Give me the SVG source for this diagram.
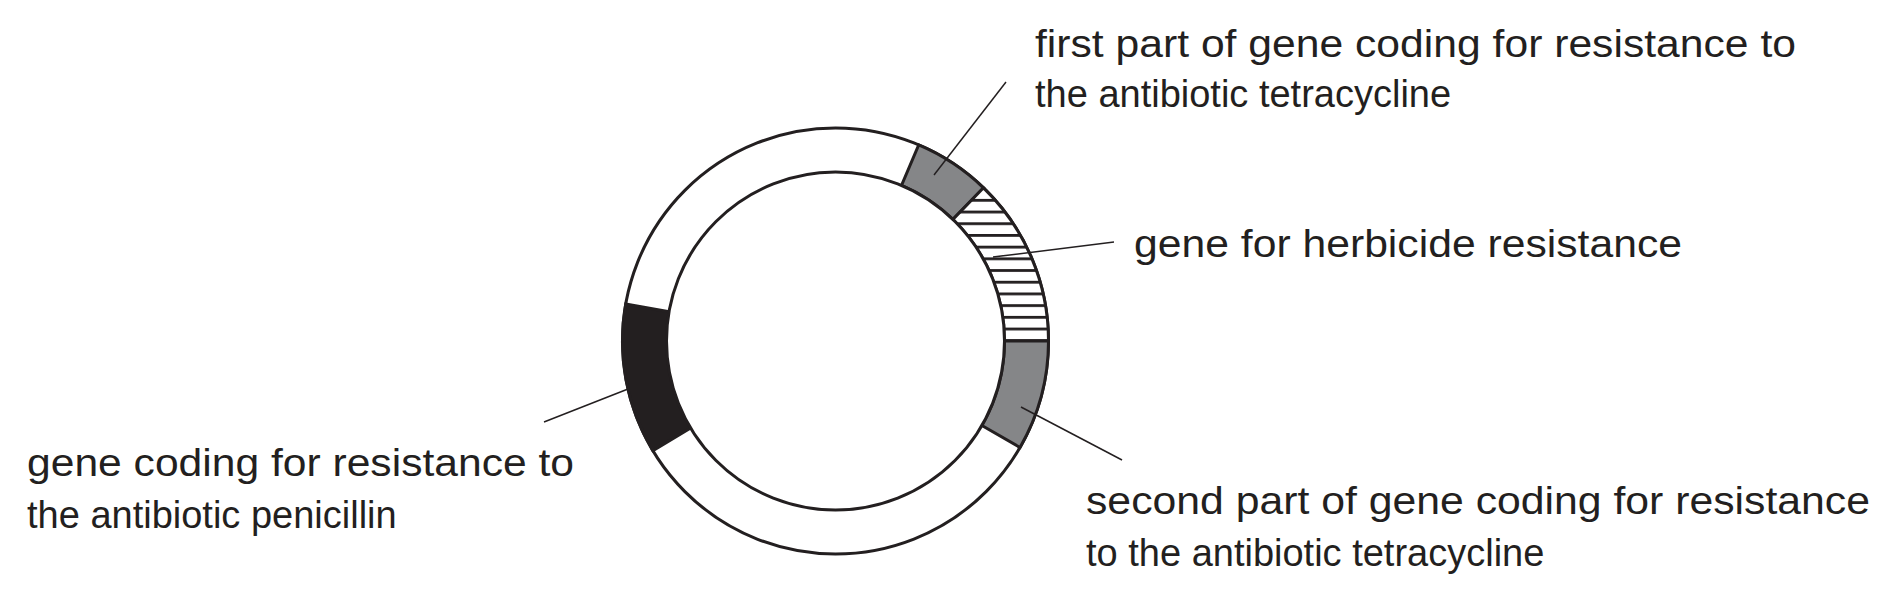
<svg xmlns="http://www.w3.org/2000/svg" width="1895" height="603" viewBox="0 0 1895 603">
<style>
.t{font-family:"Liberation Sans",Arial,sans-serif;font-size:38px;fill:#231f20}
.seg{stroke:#231f20;stroke-width:3;stroke-linejoin:miter}
.ld{stroke:#231f20;stroke-width:1.5;fill:none}
</style>
<defs>
<pattern id="hatch" patternUnits="userSpaceOnUse" x="0" y="0" width="20" height="11.7">
<rect width="20" height="11.7" fill="#fff"/>
<rect y="0" width="20" height="2.8" fill="#231f20"/>
</pattern>
</defs>
<rect width="1895" height="603" fill="#fff"/>
<g id="plasmid">
<circle cx="835.5" cy="341" r="213" fill="#fff" class="seg"/>
<path id="tet1" class="seg" fill="#858688" d="M918.7,144.9 A213,213 0 0 1 983.5,187.8 L952.9,219.4 A169,169 0 0 0 901.5,185.4 Z"/>
<path id="herb" class="seg" fill="url(#hatch)" d="M983.5,187.8 A213,213 0 0 1 1048.5,341 L1004.5,341 A169,169 0 0 0 952.9,219.4 Z"/>
<path id="tet2" class="seg" fill="#858688" d="M1048.5,341 A213,213 0 0 1 1020.0,447.5 L981.9,425.5 A169,169 0 0 0 1004.5,341 Z"/>
<path id="pen" class="seg" fill="#231f20" d="M652.9,450.7 A213,213 0 0 1 625.7,304.0 L669.1,311.7 A169,169 0 0 0 690.6,428.0 Z"/>
<circle cx="835.5" cy="341" r="169" fill="#fff" class="seg"/>
</g>
<g id="connectors">
<line class="ld" x1="1006" y1="82" x2="934" y2="175"/>
<line class="ld" x1="1114" y1="242" x2="993" y2="257"/>
<line class="ld" x1="1122" y1="460" x2="1021" y2="407"/>
<line class="ld" x1="544" y1="422" x2="628" y2="389"/>
</g>
<g id="label-tet1">
<text class="t" x="1035" y="57" textLength="761" lengthAdjust="spacingAndGlyphs">first part of gene coding for resistance to</text>
<text class="t" x="1035" y="107">the antibiotic tetracycline</text>
</g>
<g id="label-herb">
<text class="t" x="1134" y="257" textLength="548" lengthAdjust="spacingAndGlyphs">gene for herbicide resistance</text>
</g>
<g id="label-tet2">
<text class="t" x="1086" y="514" textLength="784" lengthAdjust="spacingAndGlyphs">second part of gene coding for resistance</text>
<text class="t" x="1086" y="566">to the antibiotic tetracycline</text>
</g>
<g id="label-pen">
<text class="t" x="27" y="476" textLength="547" lengthAdjust="spacingAndGlyphs">gene coding for resistance to</text>
<text class="t" x="27" y="528">the antibiotic penicillin</text>
</g>
</svg>
